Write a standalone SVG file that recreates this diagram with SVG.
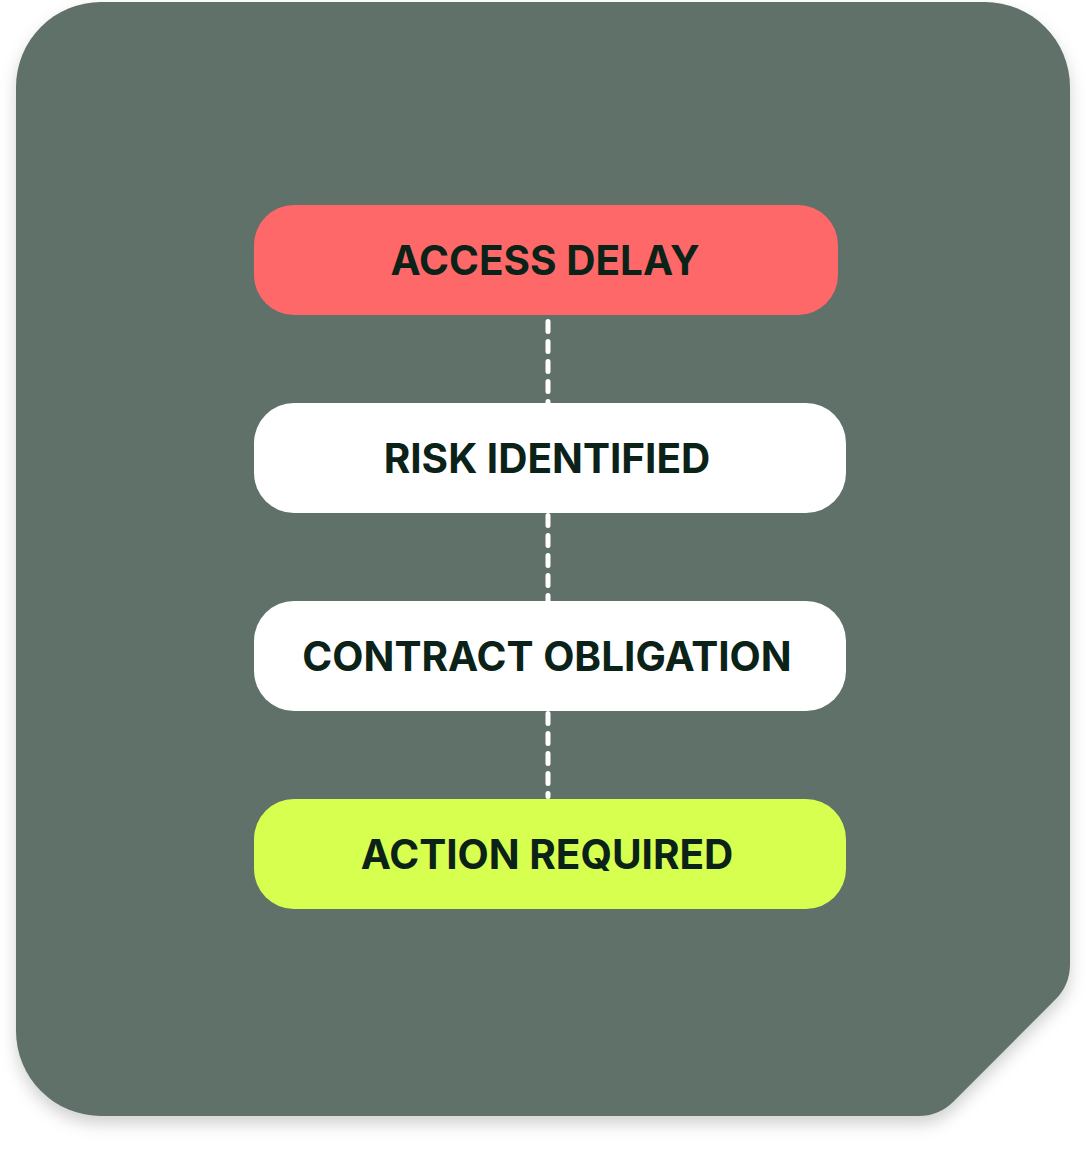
<svg xmlns="http://www.w3.org/2000/svg" width="1086" height="1149" viewBox="0 0 1086 1149">
<style>
.lbl{font-family:Inter,"Noto Sans","Liberation Sans",sans-serif;font-weight:700;font-size:40.5px;fill:#0B2218;text-anchor:middle}
.conn{stroke:#FFFFFF;stroke-width:5;stroke-dasharray:10 10;stroke-linecap:round;fill:none}
</style>
<defs>
<filter id="sh" x="-10%" y="-10%" width="120%" height="120%">
<feDropShadow dx="0" dy="8" stdDeviation="8" flood-color="#000" flood-opacity="0.18"/>
</filter>
</defs>
<rect width="1086" height="1149" fill="#FFFFFF"/>
<g id="panel">
<path d="M101 2 H985 A85 85 0 0 1 1070 87 V964.3 A50 50 0 0 1 1055.4 999.6 L953.6 1101.4 A50 50 0 0 1 918.3 1116 H101 A85 85 0 0 1 16 1031 V87 A85 85 0 0 1 101 2 Z" fill="#5E7169" filter="url(#sh)"/>
</g>
<g id="connectors">
<line class="conn" x1="548" y1="321.5" x2="548" y2="405"/>
<line class="conn" x1="548" y1="515.5" x2="548" y2="603"/>
<line class="conn" x1="548" y1="713.5" x2="548" y2="796.5"/>
</g>
<g id="node-access-delay">
<rect x="254" y="205" width="584" height="110" rx="40" fill="#FF6868"/>
<text class="lbl" x="545" y="274.5">ACCESS DELAY</text>
</g>
<g id="node-risk-identified">
<rect x="254" y="403" width="592" height="110" rx="40" fill="#FFFFFF"/>
<text class="lbl" x="547" y="472.5">RISK IDENTIFIED</text>
</g>
<g id="node-contract-obligation">
<rect x="254" y="601" width="592" height="110" rx="40" fill="#FFFFFF"/>
<text class="lbl" x="547" y="670.5">CONTRACT OBLIGATION</text>
</g>
<g id="node-action-required">
<rect x="254" y="799" width="592" height="110" rx="40" fill="#D6FF4F"/>
<text class="lbl" x="547" y="868.5">ACTION REQUIRED</text>
</g>
</svg>
